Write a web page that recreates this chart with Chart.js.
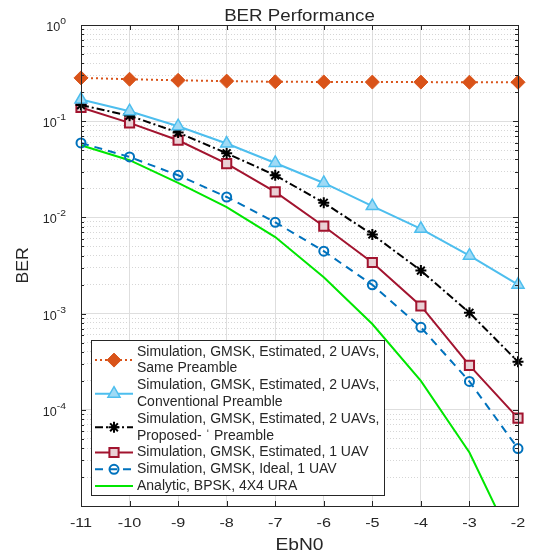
<!DOCTYPE html>
<html>
<head>
<meta charset="utf-8">
<script src="https://cdn.jsdelivr.net/npm/chart.js"></script>
<style>
  html, body { margin: 0; padding: 0; background: #fff; }
</style>
</head>
<body>
<canvas id="berChart" width="537" height="553"></canvas>
<script>
// Eb/N0 (dB) en el eje x
const ebn0 = [-11, -10, -9, -8, -7, -6, -5, -4, -3, -2];

// BER de cada curva
const berSamePreamble = [0.282, 0.273, 0.266, 0.261, 0.257, 0.256, 0.255, 0.255, 0.254, 0.254];
const berConventional = [0.168, 0.127, 0.0887, 0.0586, 0.0368, 0.0228, 0.0131, 0.0076, 0.0040, 0.0020];
const berProposed = [0.147, 0.114, 0.0762, 0.0464, 0.0274, 0.0142, 0.00665, 0.0028, 0.00102, 0.000316];
const berEstimated1 = [0.139, 0.096, 0.0634, 0.0362, 0.0184, 0.0081, 0.0034, 0.0012, 0.00029, 0.000082];
const berIdeal1 = [0.0594, 0.0425, 0.0274, 0.0163, 0.0089, 0.00446, 0.00199, 0.00072, 0.000197, 0.0000395];
const berAnalytic = [0.0562, 0.0393, 0.0228, 0.0128, 0.00624, 0.00239, 0.00078, 0.0002, 0.000036, 0.0000032];

// Ejes y etiquetas
const xTicks = [-11, -10, -9, -8, -7, -6, -5, -4, -3, -2];
const yExponents = [0, -1, -2, -3, -4, -5];
const yLabelExponents = [0, -1, -2, -3, -4];
const titleText = 'BER Performance';
const xTitle = 'EbN0';
const yTitle = 'BER';
const legendLabels = [
    ['Simulation, GMSK, Estimated, 2 UAVs,', 'Same Preamble'],
    ['Simulation, GMSK, Estimated, 2 UAVs,', 'Conventional Preamble'],
    ['Simulation, GMSK, Estimated, 2 UAVs,', 'Proposed- \u02C8 Preamble'],
    ['Simulation, GMSK, Estimated, 1 UAV'],
    ['Simulation, GMSK, Ideal, 1 UAV'],
    ['Analytic, BPSK, 4X4 URA']
];

const FONT = '"Liberation Sans", Arial, sans-serif';
const TEXT_COLOR = '#262626';

function toPoints(values) {
    return ebn0.map((x, i) => ({ x: x, y: values[i] }));
}

function isDecade(v) {
    const e = Math.log10(v);
    return Math.abs(e - Math.round(e)) < 1e-6;
}

// rejilla logaritmica: 1..9 x 10^n
const yGridValues = [];
yExponents.slice().reverse().forEach(e => {
    for (let m = 1; m <= 9; m++) {
        if (e === 0 && m > 1) break;
        yGridValues.push(m * Math.pow(10, e));
    }
});

function stretchText(ctx, str, x, y, size, sx, align) {
    ctx.save();
    ctx.font = size + 'px ' + FONT;
    ctx.translate(x, y);
    ctx.scale(sx, 1);
    ctx.textAlign = align || 'left';
    ctx.fillText(str, 0, 0);
    ctx.restore();
}

function drawMarker(ctx, ds, x, y) {
    const r = ds.pointRadius;
    ctx.save();
    ctx.setLineDash([]);
    ctx.lineWidth = ds.pointBorderWidth;
    ctx.strokeStyle = ds.pointBorderColor;
    ctx.fillStyle = ds.pointBackgroundColor;
    ctx.beginPath();
    if (ds.pointStyle === 'rectRot') {
        ctx.moveTo(x, y - r); ctx.lineTo(x + r, y); ctx.lineTo(x, y + r); ctx.lineTo(x - r, y); ctx.closePath();
    } else if (ds.pointStyle === 'triangle') {
        ctx.moveTo(x, y - r);
        ctx.lineTo(x + r * 0.866, y + r * 0.5);
        ctx.lineTo(x - r * 0.866, y + r * 0.5);
        ctx.closePath();
    } else if (ds.pointStyle === 'rect') {
        const s = r * Math.SQRT1_2;
        ctx.rect(x - s, y - s, 2 * s, 2 * s);
    } else if (ds.pointStyle === 'circle') {
        ctx.arc(x, y, r, 0, Math.PI * 2);
    } else if (ds.pointStyle === 'star') {
        const d = r * Math.SQRT1_2;
        ctx.moveTo(x - r, y); ctx.lineTo(x + r, y);
        ctx.moveTo(x, y - r); ctx.lineTo(x, y + r);
        ctx.moveTo(x - d, y - d); ctx.lineTo(x + d, y + d);
        ctx.moveTo(x - d, y + d); ctx.lineTo(x + d, y - d);
        ctx.stroke();
        ctx.restore();
        return;
    }
    if (r > 0) {
        ctx.fill();
        ctx.stroke();
    }
    ctx.restore();
}

// marco, marcas interiores y leyenda
const framePlugin = {
    id: 'frame',
    afterDatasetsDraw(chart) {
        const ctx = chart.ctx;
        const a = chart.chartArea;
        const xs = chart.scales.x;
        const ys = chart.scales.y;

        ctx.save();
        ctx.strokeStyle = TEXT_COLOR;
        ctx.lineWidth = 1;
        ctx.setLineDash([]);
        ctx.beginPath();
        xTicks.forEach(v => {
            const px = Math.round(xs.getPixelForValue(v)) + 0.5;
            ctx.moveTo(px, a.bottom); ctx.lineTo(px, a.bottom - 5);
            ctx.moveTo(px, a.top); ctx.lineTo(px, a.top + 5);
        });
        yGridValues.forEach(v => {
            const py = Math.round(ys.getPixelForValue(v)) + 0.5;
            const len = isDecade(v) ? 5 : 3;
            ctx.moveTo(a.left, py); ctx.lineTo(a.left + len, py);
            ctx.moveTo(a.right, py); ctx.lineTo(a.right - len, py);
        });
        ctx.stroke();
        ctx.strokeRect(Math.round(a.left) + 0.5, Math.round(a.top) + 0.5,
            Math.round(a.right - a.left), Math.round(a.bottom - a.top));

        // leyenda
        const box = { left: 91, top: 340, right: 384, bottom: 495 };
        ctx.fillStyle = '#ffffff';
        ctx.fillRect(box.left, box.top, box.right - box.left, box.bottom - box.top);
        ctx.strokeStyle = TEXT_COLOR;
        ctx.strokeRect(box.left + 0.5, box.top + 0.5, box.right - box.left, box.bottom - box.top);

        const rowH = 16.8;
        let row = 0;
        ctx.textBaseline = 'middle';
        legendLabels.forEach((lines, i) => {
            const ds = chart.data.datasets[i];
            const yMid = box.top + 11.7 + rowH * (row + (lines.length - 1) / 2);
            ctx.save();
            ctx.strokeStyle = ds.borderColor;
            ctx.lineWidth = ds.borderWidth;
            ctx.setLineDash(ds.borderDash || []);
            ctx.beginPath();
            ctx.moveTo(95, yMid);
            ctx.lineTo(133, yMid);
            ctx.stroke();
            ctx.restore();
            drawMarker(ctx, ds, 114, yMid);
            ctx.fillStyle = TEXT_COLOR;
            lines.forEach((txt, j) => {
                stretchText(ctx, txt, 137, box.top + 11.7 + rowH * (row + j), 14, 1.0, 'left');
            });
            row += lines.length;
        });
        ctx.restore();
    },
    afterDraw(chart) {
        const ctx = chart.ctx;
        const a = chart.chartArea;
        const xs = chart.scales.x;
        const ys = chart.scales.y;
        const cx = (a.left + a.right) / 2;

        ctx.save();
        ctx.fillStyle = TEXT_COLOR;
        ctx.textBaseline = 'alphabetic';

        stretchText(ctx, titleText, cx, 21, 17, 1.1, 'center');
        stretchText(ctx, xTitle, cx, 550, 16, 1.2, 'center');

        xTicks.forEach(v => {
            stretchText(ctx, String(v), xs.getPixelForValue(v), 527, 12, 1.35, 'center');
        });

        yLabelExponents.forEach(e => {
            const py = ys.getPixelForValue(Math.pow(10, e));
            const sup = String(e).replace('-', '-');
            ctx.font = '9px ' + FONT;
            const supW = ctx.measureText(sup).width * 1.15;
            ctx.font = '12px ' + FONT;
            const baseW = ctx.measureText('10').width * 1.05;
            const right = 66;
            stretchText(ctx, '10', right - supW - baseW, py + 6, 12, 1.05, 'left');
            stretchText(ctx, sup, right - supW, py - 1, 9, 1.15, 'left');
        });

        ctx.save();
        ctx.translate(28, (a.top + a.bottom) / 2);
        ctx.rotate(-Math.PI / 2);
        stretchText(ctx, yTitle, 0, 0, 16, 1.1, 'center');
        ctx.restore();

        ctx.restore();
    }
};

const ctx = document.getElementById('berChart');

new Chart(ctx, {
    type: 'line',
    data: {
        datasets: [
            {
                label: 'Same Preamble',
                data: toPoints(berSamePreamble),
                borderColor: '#D95319',
                borderWidth: 2,
                borderDash: [2, 3],
                pointStyle: 'rectRot',
                pointRadius: 7,
                pointBorderWidth: 1,
                pointBorderColor: '#D95319',
                pointBackgroundColor: '#D95319',
                clip: false,
            },
            {
                label: 'Conventional Preamble',
                data: toPoints(berConventional),
                borderColor: '#4DBEEE',
                borderWidth: 2,
                pointStyle: 'triangle',
                pointRadius: 7,
                pointBorderWidth: 1.5,
                pointBorderColor: '#4DBEEE',
                pointBackgroundColor: '#9fdaf5',
                clip: false,
            },
            {
                label: 'Proposed Preamble',
                data: toPoints(berProposed),
                borderColor: '#000000',
                borderWidth: 2,
                borderDash: [8, 3, 2, 3],
                pointStyle: 'star',
                pointRadius: 5.5,
                pointBorderWidth: 2,
                pointBorderColor: '#000000',
                pointBackgroundColor: '#000000',
                clip: false,
            },
            {
                label: 'Estimated, 1 UAV',
                data: toPoints(berEstimated1),
                borderColor: '#A2142F',
                borderWidth: 2,
                pointStyle: 'rect',
                pointRadius: 6.5,
                pointBorderWidth: 2,
                pointBorderColor: '#A2142F',
                pointBackgroundColor: '#ead0d5',
                clip: false,
            },
            {
                label: 'Ideal, 1 UAV',
                data: toPoints(berIdeal1),
                borderColor: '#0072BD',
                borderWidth: 2,
                borderDash: [8, 6],
                pointStyle: 'circle',
                pointRadius: 4.5,
                pointBorderWidth: 2,
                pointBorderColor: '#0072BD',
                pointBackgroundColor: 'rgba(255,255,255,0)',
                clip: false,
            },
            {
                label: 'Analytic',
                data: toPoints(berAnalytic),
                borderColor: '#00E600',
                borderWidth: 2,
                pointStyle: 'circle',
                pointRadius: 0,
                pointBorderWidth: 0,
                pointBorderColor: '#00E600',
                pointBackgroundColor: '#00E600',
                clip: { left: false, top: false, right: false, bottom: 0 },
            }
        ]
    },
    options: {
        responsive: false,
        animation: false,
        events: [],
        layout: {
            padding: { top: 25, right: 19, left: 0, bottom: 0 }
        },
        plugins: {
            legend: { display: false },
            title: { display: false },
            tooltip: { enabled: false }
        },
        scales: {
            x: {
                type: 'linear',
                min: -11,
                max: -2,
                ticks: { stepSize: 1, display: false },
                grid: { color: '#dedede', lineWidth: 1, drawTicks: false },
                border: { display: false },
                afterFit: function(scale) { scale.height = 47; }
            },
            y: {
                type: 'logarithmic',
                min: 1e-5,
                max: 1,
                ticks: { display: false, autoSkip: false },
                afterBuildTicks: function(scale) {
                    scale.ticks = yGridValues.map(v => ({ value: v, major: isDecade(v) }));
                },
                grid: {
                    drawTicks: false,
                    lineWidth: 1,
                    color: function(c) {
                        return c.tick && isDecade(c.tick.value) ? '#dedede' : '#d6d6d6';
                    }
                },
                border: {
                    display: false,
                    dash: function(c) {
                        return c.tick && !isDecade(c.tick.value) ? [1, 2] : [];
                    }
                },
                afterFit: function(scale) { scale.width = 81; }
            }
        }
    },
    plugins: [framePlugin]
});
</script>
</body>
</html>
